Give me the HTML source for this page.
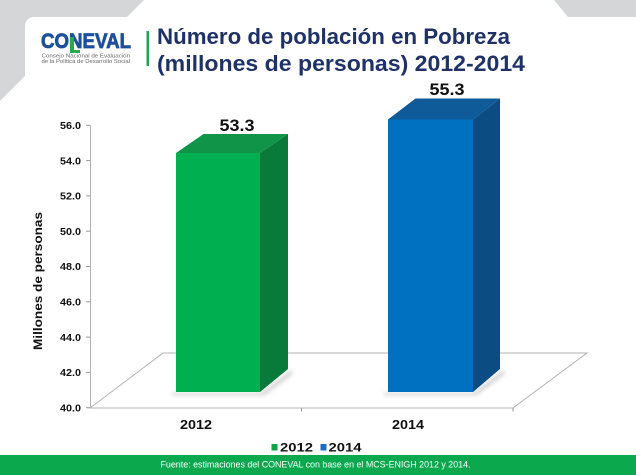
<!DOCTYPE html>
<html><head><meta charset="utf-8"><style>
html,body{margin:0;padding:0;background:#fff;}
svg{display:block;}
</style></head><body>
<svg width="636" height="475" viewBox="0 0 636 475" xmlns="http://www.w3.org/2000/svg" font-family="'Liberation Sans', Arial, sans-serif">
  <defs>
    <filter id="blur" x="-20%" y="-50%" width="140%" height="200%"><feGaussianBlur stdDeviation="2"/></filter>
  </defs>
  <rect width="636" height="475" fill="#fff"/>
  <!-- top gray shapes -->
  <path d="M0,0 L144,0 L127,17 L35,17 Q25,17 25,27 L25,76 L0,101 Z" fill="#d5d6d8"/>
  <path d="M554,0 L636,0 L636,17 L568,17 Z" fill="#d5d6d8"/>

  <!-- logo -->
  <text x="41" y="48" font-size="21" font-weight="bold" fill="#1d4f9c" stroke="#1d4f9c" stroke-width="0.8" textLength="90" lengthAdjust="spacingAndGlyphs" font-family="'Liberation Sans', Arial, sans-serif">CONEVAL</text>
  <rect x="70" y="37" width="4" height="16" fill="#2aa84a"/>
  <rect x="70" y="50" width="10" height="3" fill="#2aa84a"/>
  <text x="41.5" y="57.5" font-size="5.6" fill="#666" textLength="88.5" lengthAdjust="spacingAndGlyphs">Consejo Nacional de Evaluación</text>
  <text x="41.5" y="63" font-size="5.6" fill="#666" textLength="88.5" lengthAdjust="spacingAndGlyphs">de la Política de Desarrollo Social</text>
  <rect x="146.5" y="31" width="2.5" height="35" fill="#1aa84f"/>

  <!-- title -->
  <text x="157" y="44" font-size="22" font-weight="bold" fill="#1f3267" textLength="353" lengthAdjust="spacingAndGlyphs">Número de población en Pobreza</text>
  <text x="157" y="71" font-size="22" font-weight="bold" fill="#1f3267" textLength="368" lengthAdjust="spacingAndGlyphs">(millones de personas) 2012-2014</text>

  <!-- floor -->
  <path d="M90,408 L513,408 L587,353 L163,353 Z" fill="#fff" stroke="#b3b3b3" stroke-width="1"/>
  <line x1="301.5" y1="408" x2="301.5" y2="411.5" stroke="#999" stroke-width="1"/>
  <line x1="513" y1="408" x2="513" y2="411.5" stroke="#999" stroke-width="1"/>

  <!-- y axis -->
  <line x1="90.5" y1="125" x2="90.5" y2="408" stroke="#b3b3b3" stroke-width="1"/>
  <g stroke="#999" stroke-width="1">
    <line x1="86" y1="125.3" x2="90" y2="125.3"/>
    <line x1="86" y1="160.6" x2="90" y2="160.6"/>
    <line x1="86" y1="195.9" x2="90" y2="195.9"/>
    <line x1="86" y1="231.2" x2="90" y2="231.2"/>
    <line x1="86" y1="266.5" x2="90" y2="266.5"/>
    <line x1="86" y1="301.8" x2="90" y2="301.8"/>
    <line x1="86" y1="337.1" x2="90" y2="337.1"/>
    <line x1="86" y1="372.4" x2="90" y2="372.4"/>
    <line x1="86" y1="407.7" x2="90" y2="407.7"/>
  </g>
  <g font-size="10" font-weight="bold" fill="#111" text-anchor="end">
    <text x="81" y="129" textLength="21" lengthAdjust="spacingAndGlyphs">56.0</text>
    <text x="81" y="164.3" textLength="21" lengthAdjust="spacingAndGlyphs">54.0</text>
    <text x="81" y="199.6" textLength="21" lengthAdjust="spacingAndGlyphs">52.0</text>
    <text x="81" y="234.9" textLength="21" lengthAdjust="spacingAndGlyphs">50.0</text>
    <text x="81" y="270.2" textLength="21" lengthAdjust="spacingAndGlyphs">48.0</text>
    <text x="81" y="305.5" textLength="21" lengthAdjust="spacingAndGlyphs">46.0</text>
    <text x="81" y="340.8" textLength="21" lengthAdjust="spacingAndGlyphs">44.0</text>
    <text x="81" y="376.1" textLength="21" lengthAdjust="spacingAndGlyphs">42.0</text>
    <text x="81" y="411.4" textLength="21" lengthAdjust="spacingAndGlyphs">40.0</text>
  </g>
  <text transform="translate(42,281) rotate(-90)" font-size="12" font-weight="bold" fill="#111" text-anchor="middle" textLength="138" lengthAdjust="spacingAndGlyphs">Millones de personas</text>

  <!-- shadows -->
  <path d="M172,393 L262,393 L292,370 L292,374 L264,395 L172,395 Z" fill="#888" opacity="0.5" filter="url(#blur)"/>
  <path d="M384,393 L474,393 L504,370 L504,374 L476,395 L384,395 Z" fill="#888" opacity="0.5" filter="url(#blur)"/>

  <!-- green bar -->
  <path d="M260,153 L288,134 L288,369 L260,392 Z" fill="#0a7a3a"/>
  <path d="M176,153 L203.5,134 L288,134 L260,153 Z" fill="#109447"/>
  <rect x="176" y="153" width="84" height="239" fill="#00b050"/>

  <!-- blue bar -->
  <path d="M473,119.5 L500,98.5 L500,369 L473,392 Z" fill="#0b4c82"/>
  <path d="M388,119.5 L415.5,98.5 L500,98.5 L473,119.5 Z" fill="#0f5a98"/>
  <rect x="388" y="119.5" width="85" height="272.5" fill="#0070c0"/>

  <!-- value labels -->
  <text x="237" y="131" font-size="17" font-weight="bold" fill="#111" text-anchor="middle" textLength="35" lengthAdjust="spacingAndGlyphs">53.3</text>
  <text x="447" y="95" font-size="17" font-weight="bold" fill="#111" text-anchor="middle" textLength="35" lengthAdjust="spacingAndGlyphs">55.3</text>

  <!-- category labels -->
  <text x="196" y="429" font-size="13" font-weight="bold" fill="#111" text-anchor="middle" textLength="32" lengthAdjust="spacingAndGlyphs">2012</text>
  <text x="408" y="429" font-size="13" font-weight="bold" fill="#111" text-anchor="middle" textLength="32" lengthAdjust="spacingAndGlyphs">2014</text>

  <!-- legend -->
  <rect x="271.5" y="444" width="6" height="6.5" fill="#12a048"/>
  <text x="280" y="451.5" font-size="11.5" font-weight="bold" fill="#111" textLength="33" lengthAdjust="spacingAndGlyphs">2012</text>
  <rect x="320.5" y="444" width="6" height="6.5" fill="#1a6fc0"/>
  <text x="328.5" y="451.5" font-size="11.5" font-weight="bold" fill="#111" textLength="33" lengthAdjust="spacingAndGlyphs">2014</text>

  <!-- footer -->
  <rect x="0" y="455" width="636" height="20" fill="#0ba84e"/>
  <text x="160.5" y="467.5" font-size="9" fill="#fff" textLength="310" lengthAdjust="spacingAndGlyphs">Fuente: estimaciones del CONEVAL con base en el MCS-ENIGH 2012 y 2014.</text>
</svg>
</body></html>
